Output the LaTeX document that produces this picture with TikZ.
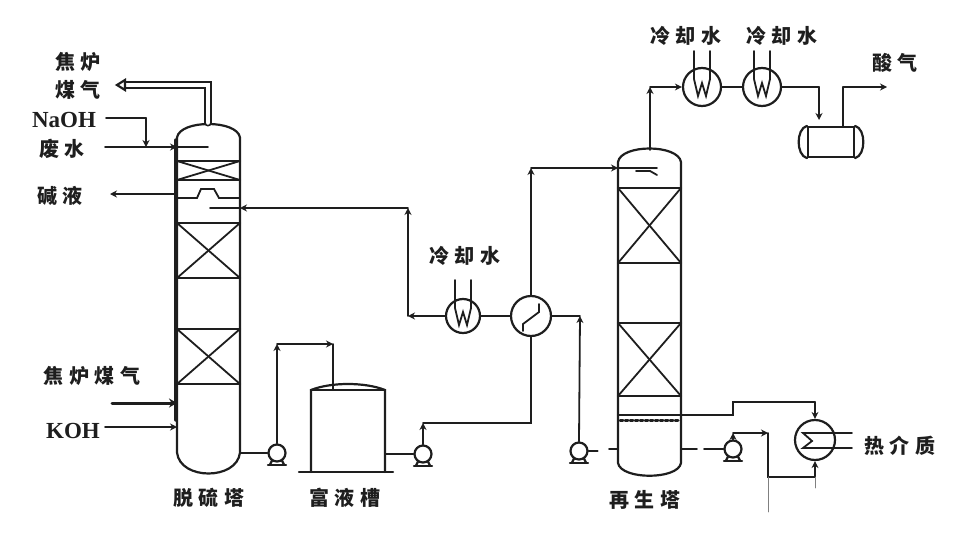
\documentclass[tikz,border=0pt]{standalone}
\usepackage{fontspec}
\setmainfont{Liberation Serif}
\newfontfamily\cjk[LetterSpace=28]{Noto Sans CJK SC}
\usetikzlibrary{arrows.meta}
\definecolor{inkc}{HTML}{1E1E1E}
\tikzset{
  pipe/.style={inkc,line width=1.8pt},
  vessel/.style={inkc,line width=2.2pt},
  shellbox/.style={rectangle,inner sep=0pt,outer sep=0pt,minimum width=#1},
  cooler/.style={circle,draw=inkc,line width=2.2pt,fill=white,inner sep=0pt,minimum size=#1},
  pump/.style={circle,draw=inkc,line width=2.2pt,fill=white,inner sep=0pt,minimum size=17pt},
  lab/.style={inkc,inner sep=0pt,font=\cjk\bfseries\fontsize{20}{22}\selectfont},
  latin/.style={inkc,inner sep=0pt,font=\bfseries\fontsize{23}{23}\selectfont}
}
\begin{document}
\begin{tikzpicture}[x=1pt,y=-1pt,>={Stealth[length=7pt,width=7pt]},line cap=round]
\useasboundingbox (0,0) rectangle (964,538);
% towers, tank and drum
\node[shellbox=63,minimum height=315] (ta) at (208.5,295) {};
\node[shellbox=63,minimum height=301] (tb) at (649.5,312.5) {};
\node[shellbox=74,minimum height=82] (tk) at (348,431) {};
\node[rectangle,draw=inkc,line width=2.2pt,inner sep=0pt,minimum width=46,minimum height=30] (dr) at (831,142) {};
\foreach \t/\d in {ta/28,tb/17}{
\draw[vessel] (\t.north west) -- (\t.south west) .. controls +(3,\d) and +(-3,\d) .. (\t.south east) -- (\t.north east) .. controls +(-3,-18) and +(3,-18) .. cycle;
}
\draw[inkc,line width=3.5pt] (176,140) -- (176,420);
\draw[vessel] (tk.south west) -- (tk.north west) .. controls +(20,-8) and +(-20,-8) .. (tk.north east) -- (tk.south east);
\draw[vessel] (tk.north west) -- (tk.north east);
\draw[vessel] (299,472) -- (393,472);
\draw[vessel] (dr.north west) .. controls +(-11,3) and +(-11,-3) .. (dr.south west);
\draw[vessel] (dr.north east) .. controls +(11,3) and +(11,-3) .. (dr.south east);
% packing
\foreach \x/\top/\bot in {177/223/278,177/329/384,618/188/263,618/323/396}{
\draw[vessel] (\x,\top) -- ++(63,0);
\draw[vessel] (\x,\bot) -- ++(63,0);
\draw[pipe] (\x,\top) -- ++(63,\bot-\top);
\draw[pipe] (\x,\bot) -- ++(63,\top-\bot);
}
% trays in the first tower
\draw[vessel] (177,161) -- (240,161);
\draw[vessel] (177,180) -- (240,180);
\draw[pipe] (177,161) -- (240,180);
\draw[pipe] (177,180) -- (240,161);
\draw[pipe] (177,198) -- (197,198) -- (201,189) -- (214,189) -- (219,198) -- (240,198);
% trays in the second tower
\draw[vessel] (618,415) -- (681,415);
\draw[inkc,line width=3pt,dash pattern=on 3pt off 2pt] (620,420) -- (679,420);
\draw[pipe] (636,171) -- (650,171) -- (657,175);
% machines
\node[pump] (pa) at (277,453) {};
\node[pump] (pb) at (423,454) {};
\node[pump] (pc) at (579,451) {};
\node[pump] (pd) at (733,449) {};
\node[cooler=34] (ca) at (463,316) {};
\node[cooler=38] (cb) at (702,87) {};
\node[cooler=38] (cc) at (762,87) {};
\node[cooler=40] (ex) at (531,316) {};
\node[cooler=40] (rb) at (815,440) {};
\foreach \p in {pa,pb,pc,pd}{
\draw[vessel] (\p.south) ++(-9,2) -- ++(18,0);
\draw[vessel] (\p.south) ++(-5,-2) -- ++(-2,4);
\draw[vessel] (\p.south) ++(5,-2) -- ++(2,4);
}
\foreach \c in {ca,cb,cc}{
\draw[pipe] (\c) ++(-8,-36) -- ++(0,28) -- ++(4,17) -- ++(4,-13) -- ++(4,13) -- ++(4,-17) -- ++(0,-28);
}
\draw[pipe] (ex) ++(-8,15) -- ++(0,-7) -- ++(16,-12) -- ++(0,-8);
\draw[pipe] (852,433) -- (803,433) -- (812,441) -- (803,448) -- (852,448);
% pipe corners and free ends
\coordinate (gasa) at (124,85);
\coordinate (gasb) at (208,85);
\coordinate (naa) at (106,118);
\coordinate (nab) at (146,118);
\coordinate (wtr) at (105,147);
\coordinate (wtrb) at (208,147);
\coordinate (alk) at (110,194);
\coordinate (gasin) at (112,403);
\coordinate (koh) at (105,427);
\coordinate (ra) at (277,344);
\coordinate (rc) at (333,344);
\coordinate (rd) at (423,423);
\coordinate (re) at (531,423);
\coordinate (rf) at (531,168);
\coordinate (rg) at (657,168);
\coordinate (la) at (580,316);
\coordinate (lb) at (408,316);
\coordinate (lc) at (408,208);
\coordinate (ld) at (210,208);
\coordinate (va) at (650,87);
\coordinate (vb) at (819,87);
\coordinate (vc) at (819,120);
\coordinate (vd) at (843,87);
\coordinate (ve) at (887,87);
\coordinate (sa) at (733,433);
\coordinate (sb) at (768,433);
\coordinate (sc) at (768,477);
\coordinate (sd) at (815,477);
\coordinate (ta0) at (733,402);
\coordinate (ta1) at (815,402);
\coordinate (ta2) at (733,415);
% pipes on the first tower
\draw[inkc,line width=8pt] (gasb |- ta.north) ++(0,-15) -- (gasb) -- (gasa);
\draw[white,line width=4.5pt] (gasb |- ta.north) ++(0,-15) -- (gasb) -- (gasa);
\draw[vessel,fill=white] (125,80) -- (125,90) -- (117,85) -- cycle;
\draw[pipe] (naa) -- (nab);
\draw[pipe,->] (nab) -- (nab |- wtr);
\draw[pipe,->] (wtr) -- (wtr -| ta.west);
\draw[pipe] (wtr -| ta.west) -- (wtrb);
\draw[pipe,->] (alk -| ta.west) -- (alk);
\draw[inkc,line width=3pt,-{Stealth[length=8pt,width=9pt]}] (gasin) -- (gasin -| ta.west);
\draw[pipe,->] (koh) -- (koh -| ta.west);
\draw[pipe] (ta.east |- pa) -- (pa);
% rich liquor to the second tower
\draw[pipe,->] (pa.north) -- (ra);
\draw[pipe,->] (ra) -- (rc);
\draw[pipe] (rc) -- (rc |- tk.north);
\draw[pipe] (tk.east |- pb) -- (pb);
\draw[pipe,->] (pb.north) -- (rd);
\draw[pipe] (rd) -- (re) -- (ex.south);
\draw[pipe,->] (ex.north) -- (rf);
\draw[pipe,->] (rf) -- (rf -| tb.west);
\draw[pipe] (rf -| tb.west) -- (rg);
% lean liquor back
\draw[pipe,->] (pc.north) -- (la);
\draw[pipe] (la) -- (ex.east);
\draw[pipe] (ex.west) -- (ca.east);
\draw[pipe,->] (ca.west) -- (lb);
\draw[pipe,->] (lb) -- (lc);
\draw[pipe,->] (lc) -- (lc -| ta.east);
\draw[pipe] (lc -| ta.east) -- (ld);
\draw[pipe] (pc.east) -- ++(9,0);
\draw[pipe] (609,449) -- (tb.west |- 0,449);
\draw[pipe] (tb.east |- 0,449) -- ++(16,0);
\draw[pipe] (704,449) -- (pd.west);
% acid gas
\draw[pipe,->] (tb.north -| va) ++(0,-12) -- (va);
\draw[pipe,->] (va) -- (cb.west);
\draw[pipe] (cb.east) -- (cc.west);
\draw[pipe] (cc.east) -- (vb);
\draw[pipe,->] (vb) -- (vc);
\draw[pipe] (dr.north -| vd) -- (vd);
\draw[pipe,->] (vd) -- (ve);
% reboiler loop
\draw[pipe] (tb.east |- ta2) -- (ta2) -- (ta0) -- (ta1);
\draw[pipe,->] (ta1) -- (rb.north);
\draw[pipe,->] (pd.north) -- (sa);
\draw[pipe,->] (sa) -- (sb);
\draw[pipe] (sb) -- (sc) -- (sd);
\draw[pipe,<-] (rb.south) -- (sd);
\draw[gray,line width=0.6pt] (sc) -- ++(0,35);
\draw[gray,line width=0.6pt] (sd) -- ++(0,11);
% texts
\node[lab] (t1) at (78,62) {焦炉};
\node[lab] (t2) at (78,90) {煤气};
\node[latin] (t3) at (64,120) {NaOH};
\node[lab] (t4) at (62,149) {废水};
\node[lab] (t5) at (60,196) {碱液};
\node[lab] (t6) at (92,376) {焦炉煤气};
\node[latin] (t7) at (73,431) {KOH};
\node[lab] (t8) at (209,498) {脱硫塔};
\node[lab] (t9) at (345,498) {富液槽};
\node[lab] (t10) at (465,256) {冷却水};
\node[lab] (t11) at (645,500) {再生塔};
\node[lab] (t12) at (686,36) {冷却水};
\node[lab] (t13) at (782,36) {冷却水};
\node[lab] (t14) at (895,63) {酸气};
\node[lab] (t15) at (900,446) {热介质};
\end{tikzpicture}
\end{document}
